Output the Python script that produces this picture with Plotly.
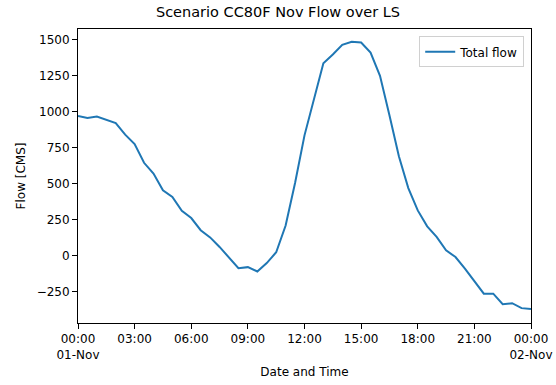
import pandas as pd
import plotly.graph_objects as go

# Half-hourly total flow for 1 Nov, 00:00 through 00:00 next day
times = pd.date_range("2021-11-01 00:00", "2021-11-02 00:00", freq="30min")
total_flow = [
    970, 955, 965, 940, 920, 840, 775, 645, 570, 455,
    408, 312, 262, 178, 128, 62, -10, -85, -78, -108,
    -50, 25, 210, 505, 835, 1080, 1335, 1395, 1462, 1483,
    1478, 1408, 1248, 975, 690, 470, 315, 205, 132, 38,
    -8, -88, -178, -262, -262, -335, -328, -362, -368,
]

tick_times = pd.date_range("2021-11-01 00:00", "2021-11-02 00:00", freq="3h")
tick_labels = [
    "00:00<br>01-Nov", "03:00", "06:00", "09:00", "12:00",
    "15:00", "18:00", "21:00", "00:00<br>02-Nov",
]
y_ticks = [-250, 0, 250, 500, 750, 1000, 1250, 1500]

font_family = "DejaVu Sans"

fig = go.Figure()
fig.add_trace(go.Scatter(
    x=times,
    y=total_flow,
    mode="lines",
    name="Total flow",
    line=dict(color="#1f77b4", width=2),
))

axis_common = dict(
    showline=True,
    linecolor="black",
    linewidth=1,
    mirror=True,
    ticks="outside",
    ticklen=5,
    tickwidth=1,
    tickcolor="black",
    showgrid=False,
    zeroline=False,
    automargin=False,
    tickfont=dict(family=font_family, size=12, color="black"),
)

fig.update_layout(
    width=556,
    height=385,
    margin=dict(l=78, r=25, t=29, b=62),
    paper_bgcolor="white",
    plot_bgcolor="white",
    font=dict(family=font_family, size=12, color="black"),
    title=dict(
        text="Scenario CC80F Nov Flow over LS",
        x=0.5,
        xanchor="center",
        y=1 - 12 / 385,
        yanchor="middle",
        font=dict(family=font_family, size=14.5, color="black"),
        automargin=False,
    ),
    xaxis=dict(
        **axis_common,
        range=[times[0], times[-1]],
        tickvals=tick_times,
        ticktext=tick_labels,
        title=dict(text="Date and Time", standoff=6,
                   font=dict(family=font_family, size=12, color="black")),
    ),
    yaxis=dict(
        **axis_common,
        range=[-465, 1572],
        tickvals=y_ticks,
        ticktext=[f"{v:d}".replace("-", "\u2212") for v in y_ticks],
        title=dict(text="Flow [CMS]", standoff=8,
                   font=dict(family=font_family, size=12, color="black")),
    ),
    showlegend=True,
    legend=dict(
        x=0.985,
        y=0.975,
        xanchor="right",
        yanchor="top",
        bgcolor="white",
        bordercolor="#d0d0d0",
        borderwidth=1,
        font=dict(family=font_family, size=12, color="black"),
        itemwidth=30,
    ),
)

fig.write_html("out.html")
